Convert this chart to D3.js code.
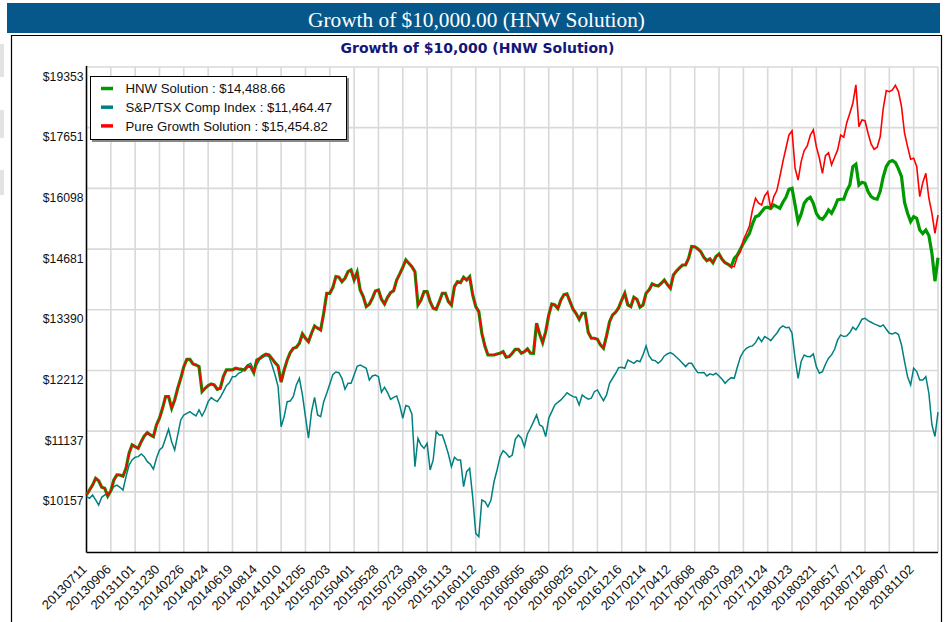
<!DOCTYPE html>
<html><head><meta charset="utf-8">
<script src="https://cdn.jsdelivr.net/npm/d3@7"></script>
<style>body{margin:0;background:#fff;} svg{display:block;}</style>
</head><body>
<svg id="c" width="946" height="622"></svg>
<script>
// ---------------- data ----------------
const dayStep = 5; // trading days between samples
const xTickLabels = ["20130711","20130906","20131101","20131230","20140226","20140424","20140619","20140814","20141010","20141205","20150203","20150401","20150528","20150723","20150918","20151113","20160112","20160309","20160505","20160630","20160825","20161021","20161216","20170214","20170412","20170608","20170803","20170929","20171124","20180123","20180321","20180517","20180712","20180907","20181102"];
const xTickEvery = 40; // trading days between labels
const yTickValues = [10157, 11137, 12212, 13390, 14681, 16098, 17651, 19353];
const yDomain = [9263, 19353];
const seriesNames = ["HNW Solution", "S&P/TSX Comp Index", "Pure Growth Solution"];
const finalLabels = ["$14,488.66", "$11,464.47", "$15,454.82"];

const hnw = [
10109,10186,10263,10369,10330,10228,10212,10094,10175,10342,
10423,10421,10402,10527,10770,10907,10878,10851,10961,11056,
11112,11073,11044,11243,11357,11530,11736,11736,11531,11677,
11886,12067,12282,12420,12420,12333,12314,12283,11825,11886,
11934,11964,11946,11868,11886,12098,12221,12221,12221,12252,
12240,12233,12221,12295,12282,12172,12407,12439,12484,12515,
12502,12433,12357,12295,12000,12221,12407,12547,12630,12649,
12726,12908,12823,12758,12921,13065,13019,12986,13319,13729,
13729,13848,14079,14066,13973,14045,14186,14224,14009,14174,
13798,13660,13453,13501,13626,13778,13798,13605,13508,13646,
13742,13784,14009,14138,14281,14442,14368,14296,14186,13488,
13589,13764,13763,13556,13420,13400,13555,13729,13729,13556,
13487,13869,13973,13953,14066,14010,14079,13694,13453,13353,
12921,12674,12502,12502,12502,12521,12535,12566,12459,12471,
12535,12610,12611,12534,12566,12617,12535,12534,13118,12908,
12738,12953,13284,13508,13487,13413,13589,13700,13715,13557,
13400,13312,13198,13319,13319,12934,12823,12823,12804,12694,
12630,12869,13150,13285,13339,13433,13589,13730,13487,13454,
13646,13605,13441,13488,13729,13799,13925,13897,13882,13939,
14009,13911,13834,14117,14201,14267,14331,14333,14478,14738,
14734,14686,14623,14500,14425,14464,14381,14515,14572,14456,
14381,14347,14294,14478,14550,14678,14810,14925,15037,15253,
15421,15447,15539,15628,15643,15612,15697,15659,15619,15762,
15882,16076,16100,15699,15304,15479,15738,15834,15882,15739,
15501,15392,15360,15447,15579,15502,15643,15818,15834,15834,
16042,16183,16640,16700,16181,16249,16223,16020,15897,15850,
15834,16028,16386,16640,16763,16792,16738,16580,16386,15755,
15501,15307,15421,15384,15113,15032,15113,14985,14587,13983,
14488.66];

const tsx = [
10083,10059,10109,10033,9957,10074,10109,10135,10160,10238,
10263,10228,10186,10395,10580,10661,10705,10715,10758,10715,
10633,10591,10512,10688,10824,10868,11017,11169,10961,10824,
11073,11328,11414,11443,11472,11431,11397,11501,11397,11501,
11647,11718,11677,11648,11725,11826,11934,11989,12097,12098,
12160,12184,12253,12314,12345,12221,12314,12421,12459,12490,
12470,12314,12129,11916,11213,11386,11647,11659,11736,11947,
12067,11766,11385,11018,11472,11724,11414,11386,11647,11796,
11964,12135,12184,12171,12067,11868,11977,11977,12129,12289,
12314,12283,12253,12037,12110,12128,12097,11814,11905,11808,
11689,11724,11749,11584,11357,11578,11559,11431,10553,11018,
10906,10851,10934,10500,10661,11130,11073,11073,10923,10758,
10553,10704,10661,10661,10237,10473,10527,10074,9538,9490,
10032,10008,9931,10033,10314,10500,10714,10813,10770,10704,
10742,11001,11073,11018,10878,11091,11186,11299,11414,11242,
11213,11046,11357,11473,11589,11636,11677,11737,11807,11766,
11736,11725,11589,11766,11725,11690,11708,11825,11856,11754,
11664,11766,11977,12068,12160,12265,12271,12253,12407,12377,
12345,12396,12375,12503,12674,12484,12407,12396,12345,12396,
12484,12521,12546,12515,12459,12408,12345,12283,12345,12345,
12253,12172,12171,12172,12110,12148,12129,12160,12110,12049,
11977,12037,12079,12068,12271,12459,12566,12630,12661,12676,
12738,12843,12758,12856,12823,12778,12854,12921,13019,13066,
13031,13040,12921,12440,12067,12378,12502,12472,12470,12522,
12282,12160,12190,12327,12440,12503,12611,12791,12888,12856,
12870,12934,13039,12987,13085,13199,13218,13172,13139,13105,
13081,13053,13085,13000,12921,12908,12933,12895,12694,12378,
12097,11946,12253,12191,12037,12038,12097,11797,11242,11047,
11464.47];

const pure = [
10109,10186,10263,10369,10330,10228,10212,10094,10175,10342,
10423,10421,10402,10527,10770,10907,10878,10851,10961,11056,
11112,11073,11044,11243,11357,11530,11736,11736,11531,11677,
11886,12067,12282,12420,12420,12333,12314,12283,11825,11886,
11934,11964,11946,11868,11886,12098,12221,12221,12221,12252,
12240,12233,12221,12295,12282,12172,12407,12439,12484,12515,
12502,12433,12357,12295,12000,12221,12407,12547,12630,12649,
12726,12908,12823,12758,12921,13065,13019,12986,13319,13729,
13729,13848,14079,14066,13973,14045,14186,14224,14009,14174,
13798,13660,13453,13501,13626,13778,13798,13605,13508,13646,
13742,13784,14009,14138,14281,14442,14368,14296,14186,13488,
13589,13764,13763,13556,13420,13400,13555,13729,13729,13556,
13487,13869,13973,13953,14066,14010,14079,13694,13453,13353,
12921,12674,12502,12502,12502,12521,12535,12566,12459,12471,
12535,12610,12611,12534,12566,12617,12535,12534,13118,12908,
12738,12953,13284,13508,13487,13413,13589,13700,13715,13557,
13400,13312,13198,13319,13319,12934,12823,12823,12804,12694,
12630,12869,13150,13285,13339,13433,13589,13730,13487,13454,
13646,13605,13441,13488,13729,13799,13925,13897,13882,13939,
14009,13911,13834,14117,14201,14267,14331,14333,14478,14738,
14734,14686,14623,14500,14425,14464,14381,14515,14572,14456,
14381,14347,14294,14297,14512,14626,14884,15038,15205,15580,
15858,15739,15697,15914,16017,15620,15897,16044,16386,16766,
17108,17458,17563,16598,16303,16766,17046,17169,17450,17592,
17150,16851,16471,16919,16994,16682,16876,17065,17455,17397,
17785,18042,18317,18834,17678,17860,17838,17503,17220,17082,
17134,17414,18178,18673,18641,18692,18823,18645,18222,17503,
17150,16826,16851,16640,15897,16240,16471,15859,15501,15038,
15454.82];

// ---------------- drawing ----------------
const svg = d3.select("#c");
const W = 946, H = 622;
const plot = {left: 86.5, right: 938, top: 67, bottom: 552.6};
const SANS = "'Liberation Sans', Arial, sans-serif";

svg.append("rect").attr("width", W).attr("height", H).attr("fill", "#fff");
// page artefacts at the left edge
[[44,33],[110,28],[170,25]].forEach(([yy,h]) =>
  svg.append("rect").attr("x",0).attr("y",yy).attr("width",4).attr("height",h).attr("fill","#e3e3e3"));

// title bar
svg.append("rect").attr("x", 7).attr("y", 3).attr("width", 933).attr("height", 30).attr("fill", "#06588b");
svg.append("text").attr("x", 476.5).attr("y", 26.5).attr("text-anchor", "middle")
  .attr("fill", "#fff").attr("font-family", "'Liberation Serif', 'Times New Roman', serif")
  .attr("font-size", 21.3).text("Growth of $10,000.00 (HNW Solution)");

// chart frame
svg.append("path").attr("d", `M11.5,${H} V35.5 H941.5 V${H}`).attr("fill", "none").attr("stroke", "#000").attr("stroke-width", 1.2);

// subtitle
svg.append("text").attr("x", 477.5).attr("y", 53).attr("text-anchor", "middle")
  .attr("fill", "#15157a").attr("font-family", "'DejaVu Sans', Verdana, sans-serif").attr("font-weight", "bold")
  .attr("font-size", 14).text("Growth of $10,000 (HNW Solution)");

const nPts = hnw.length;
const x = d3.scaleLinear().domain([0, (nPts - 1) * dayStep]).range([plot.left, plot.right]);
const y = d3.scaleLog().domain(yDomain).range([plot.bottom, plot.top]);

const g = svg.append("g");
// gridlines
const xTickPos = xTickLabels.map((_, i) => i * xTickEvery).concat([(nPts - 1) * dayStep]);
g.selectAll("line.vg").data(xTickPos).join("line").attr("class","vg")
  .attr("x1", d => x(d)).attr("x2", d => x(d)).attr("y1", plot.top).attr("y2", plot.bottom)
  .attr("stroke", "#d9d9d9").attr("stroke-width", 1.6);
g.selectAll("line.hg").data(yTickValues).join("line").attr("class","hg")
  .attr("x1", plot.left).attr("x2", plot.right).attr("y1", d => y(d)).attr("y2", d => y(d))
  .attr("stroke", "#d9d9d9").attr("stroke-width", 1.6);

// y labels
g.selectAll("text.yl").data(yTickValues).join("text").attr("class","yl")
  .attr("x", 83.5).attr("y", d => y(d) + 13.5)
  .attr("text-anchor", "end").attr("font-family", SANS).attr("font-size", 12.2).attr("fill", "#111")
  .text(d => "$" + d);

// x labels
g.selectAll("text.xl").data(xTickLabels).join("text").attr("class","xl")
  .attr("transform", (d, i) => `translate(${x(i * xTickEvery) + 1},${plot.bottom + 17.5}) rotate(-45)`)
  .attr("text-anchor", "end").attr("font-family", SANS).attr("font-size", 13).attr("fill", "#111")
  .text(d => d);

// axes lines
g.append("line").attr("x1", plot.left).attr("x2", plot.left).attr("y1", plot.top - 1).attr("y2", plot.bottom)
  .attr("stroke", "#000").attr("stroke-width", 1.5);
g.append("line").attr("x1", plot.left).attr("x2", plot.right).attr("y1", plot.bottom).attr("y2", plot.bottom)
  .attr("stroke", "#000").attr("stroke-width", 1.5);

// series
const line = d3.line().x((d, i) => x(i * dayStep)).y(d => y(d));
const series = [
  {data: tsx, color: "#008080", width: 1.5},
  {data: hnw, color: "#009900", width: 3.2},
  {data: pure, color: "#ff0000", width: 1.6}
];
series.forEach(s => g.append("path").attr("d", line(s.data)).attr("fill", "none")
  .attr("stroke", s.color).attr("stroke-width", s.width).attr("stroke-linejoin", "miter"));

// legend
const lg = svg.append("g");
lg.append("rect").attr("x", 92).attr("y", 78).attr("width", 257).attr("height", 64).attr("fill", "#888");
lg.append("rect").attr("x", 90.5).attr("y", 76.5).attr("width", 256).attr("height", 63).attr("fill", "#fff").attr("stroke", "#000").attr("stroke-width", 1);
const legendColors = ["#009900", "#008080", "#ff0000"];
seriesNames.forEach((n, i) => {
  const cy = 88.5 + i * 18.7;
  lg.append("line").attr("x1", 101).attr("x2", 113).attr("y1", cy).attr("y2", cy)
    .attr("stroke", legendColors[i]).attr("stroke-width", 3.5);
  lg.append("text").attr("x", 125.5).attr("y", cy + 4.7)
    .attr("font-family", SANS).attr("font-size", 13.2).attr("fill", "#111")
    .text(n + " : " + finalLabels[i]);
});
</script>
</body></html>
